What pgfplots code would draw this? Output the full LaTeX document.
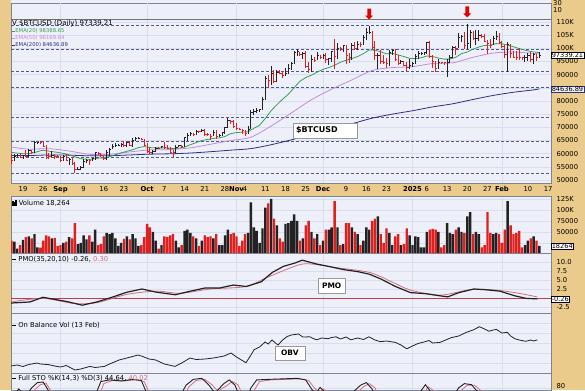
\documentclass[border=0pt]{standalone}
\usepackage{fontspec}
\setmainfont{DejaVu Sans}
\usepackage{pgfplots}
\pgfplotsset{compat=1.18}
\usepackage{pgfplotstable}
\usetikzlibrary{shadows,shapes.arrows}
\definecolor{tanc}{HTML}{EBCB8B}
\definecolor{panelbg}{HTML}{EEF0F9}
\definecolor{gridc}{HTML}{D9DDEC}
\definecolor{dashc}{HTML}{4B5A8E}
\definecolor{upc}{HTML}{222222}
\definecolor{dnc}{HTML}{E0201E}
\definecolor{ema20}{HTML}{3E9A5A}
\definecolor{ema50}{HTML}{C68BD8}
\definecolor{ema200}{HTML}{2E2E80}
\definecolor{borderc}{HTML}{7C8496}
\definecolor{sigc}{HTML}{D0707F}
\definecolor{zeroc}{HTML}{C23B4E}
\newcommand{\fs}{\fontsize{6.8}{8}\selectfont}
\newcommand{\fss}{\fontsize{5.3}{6}\selectfont}

\pgfplotstableread{
d h l c v
-3 59.8 57.1 58.9 28
-2 59.7 58.8 59.5 12
0 59.6 57.8 59.5 32
2 61.8 58.8 61.2 40
4 64.9 60.4 64.1 45
5 64.5 63.6 64.2 15
10 61.1 58.8 59.4 35
14 59.4 57.1 59.1 25
16 58.5 55.6 58.0 38
19 54.8 53.8 54.2 22
20 55.3 53.7 54.9 25
21 58.1 54.6 57.0 42
22 58.0 56.4 57.6 33
24 58.5 57.4 58.1 28
25 60.7 57.7 60.6 55
29 61.3 57.6 60.3 48
30 62.3 59.2 61.7 45
31 63.8 61.6 62.9 48
32 64.1 62.4 63.2 35
33 63.6 62.8 63.3 18
34 64.0 62.4 63.6 25
36 64.6 62.7 64.3 40
38 65.8 62.7 65.2 45
39 66.5 64.8 65.8 35
40 66.3 65.4 65.9 18
45 61.5 59.9 60.8 50
46 62.5 60.5 62.1 30
48 63.0 62.0 62.8 20
53 63.4 60.1 62.4 30
54 63.4 62.4 63.2 15
56 66.5 62.4 66.0 52
57 67.9 64.8 67.0 55
58 68.4 66.7 67.6 48
60 68.9 67.1 68.4 35
62 69.4 68.1 69.0 30
66 68.8 66.6 68.2 35
68 67.5 66.5 67.0 20
69 68.3 66.8 68.0 20
70 70.2 67.5 69.9 42
71 73.6 69.7 72.7 55
78 70.5 67.5 69.4 48
79 76.4 69.3 75.6 117
80 76.9 74.5 75.9 60
81 77.2 75.6 76.5 52
82 76.9 75.8 76.7 25
83 81.4 76.5 80.5 58
84 89.6 80.2 88.7 105
86 93.4 86.2 90.5 125
88 91.9 87.1 91.0 65
91 92.6 89.4 90.5 68
92 94.0 90.4 92.3 70
93 94.9 91.6 94.3 75
94 98.9 94.1 98.4 90
95 99.6 97.2 98.9 75
97 98.6 95.8 98.0 35
100 97.3 91.0 95.9 50
102 98.7 95.4 97.5 45
104 97.9 95.8 97.2 30
106 96.3 93.6 96.0 55
107 99.0 94.7 98.8 60
109 101.9 95.9 99.9 60
111 101.4 98.8 101.2 22
114 101.9 95.7 101.2 60
116 102.6 99.2 101.4 45
118 105.1 101.3 104.3 30
119 107.8 103.3 106.1 60
120 108.4 105.3 106.1 55
123 98.1 92.2 97.3 85
127 99.4 93.4 98.6 48
128 99.9 97.6 99.4 20
131 95.5 94.0 95.2 20
134 96.1 92.0 93.4 42
135 94.9 92.8 94.4 20
136 97.8 94.2 96.9 40
137 98.9 96.0 98.1 38
138 98.7 97.6 98.2 15
139 98.8 97.3 98.3 15
140 102.5 97.9 102.1 50
144 95.8 92.2 94.7 50
147 95.9 89.3 94.5 70
148 97.4 94.3 96.5 48
149 100.7 96.5 100.5 45
151 105.9 100.0 104.1 60
152 104.9 102.3 104.5 50
154 109.1 99.6 102.0 85
155 107.1 100.1 106.1 95
157 106.8 101.3 103.9 50
158 107.1 102.8 104.8 45
163 104.8 101.3 103.7 45
164 106.4 103.3 104.7 48
168 102.5 91.2 101.4 120
174 97.3 94.7 96.5 20
175 98.3 95.3 97.4 30
177 98.1 94.1 97.8 40
179 98.8 96.3 97.3 18
}\uptab

\pgfplotstableread{
d h l c v
-4 59.8 56.1 57.5 30
-1 60.2 58.4 58.4 20
1 61.4 58.6 59.0 38
3 61.4 59.8 60.4 35
6 65.0 63.8 64.2 14
7 64.4 62.8 62.9 30
8 63.2 58.1 59.4 42
9 60.2 57.9 59.0 40
11 59.9 57.8 59.1 36
12 59.4 58.7 58.9 18
13 59.0 57.2 57.3 20
15 59.8 57.4 57.5 28
17 58.3 55.7 56.2 35
18 56.9 52.6 53.9 70
23 57.9 55.6 57.4 42
26 60.6 59.5 60.0 20
27 60.4 58.7 59.2 22
28 59.2 57.5 58.2 40
35 64.7 62.6 63.3 34
37 64.8 62.9 63.2 33
41 66.0 65.3 65.6 20
42 65.6 62.9 63.3 38
43 64.1 60.2 60.8 68
44 62.4 59.9 60.6 60
47 62.4 61.7 62.1 12
49 64.5 62.1 62.2 40
50 63.2 61.9 62.1 38
51 62.6 60.3 60.6 42
52 61.3 58.9 60.3 45
55 63.3 62.0 62.9 20
59 67.9 66.7 67.4 40
61 68.7 68.0 68.4 18
63 69.5 66.6 67.4 42
64 67.8 66.6 67.4 38
65 67.5 65.3 66.7 40
67 68.8 65.6 66.6 45
72 72.9 71.4 72.3 45
73 72.7 69.7 70.2 48
74 71.6 68.8 69.5 40
75 69.9 68.9 69.3 18
76 69.4 67.5 68.7 30
77 69.0 66.8 67.8 45
85 89.9 85.1 87.9 115
87 91.8 86.7 87.4 80
89 91.8 90.1 90.6 35
90 91.3 88.8 89.8 28
96 98.8 97.2 97.7 30
98 98.9 92.6 93.1 65
99 94.7 90.8 91.9 75
101 96.6 94.7 95.6 35
103 97.5 96.1 96.4 20
105 98.1 94.5 95.9 55
108 103.7 92.1 97.0 120
110 100.6 99.0 99.9 20
112 101.2 94.2 97.4 70
113 98.2 94.3 96.7 70
115 102.5 99.3 100.0 50
117 102.4 100.6 101.4 20
121 106.5 100.0 100.2 75
122 102.7 95.6 97.4 80
124 99.5 94.2 95.2 45
125 97.3 94.2 94.8 25
126 96.4 92.4 94.4 58
129 99.9 95.2 95.7 40
130 97.3 93.5 94.1 45
132 95.2 93.3 93.6 22
133 94.9 91.5 92.7 58
141 102.7 96.2 96.9 55
142 97.3 92.5 95.0 57
143 95.3 91.2 92.5 55
145 94.9 93.9 94.5 15
146 95.0 93.7 94.5 20
150 100.8 97.3 99.9 55
153 106.3 99.6 101.1 48
156 106.4 103.3 103.7 45
159 105.3 104.1 104.7 15
160 105.5 102.5 102.6 20
161 103.2 97.8 102.0 95
162 103.7 100.3 101.3 48
165 106.0 101.6 102.4 45
166 102.8 100.3 100.6 25
167 101.4 96.2 97.7 55
169 101.7 96.2 97.9 65
170 99.0 96.2 96.6 45
171 99.0 95.7 96.6 48
172 100.1 95.7 96.5 52
173 96.9 95.7 96.5 15
176 98.5 94.9 95.7 35
178 98.0 95.2 96.6 30
}\dntab

\pgfplotsset{
  panel/.style={
    scale only axis, width=540bp, xmin=-4.16, xmax=183.02,
    anchor=south west,
    axis background/.style={fill=panelbg},
    axis line style={borderc, line width=0.6bp},
    major tick length=0pt,
    grid style={gridc, line width=0.5bp},
    ymajorgrids,
    yticklabel pos=right,
    yticklabel style={font=\fs, anchor=west, xshift=2bp},
    clip mode=individual,
  },
  months/.style={xtick={13,43,74,104,135,166}, xticklabels={}, xmajorgrids},
  hline/.style={forget plot, no markers},
}

\begin{document}
\begin{tikzpicture}[x=1bp,y=1bp]
\fill[tanc] (0,0) rectangle (585,390);
\useasboundingbox (0,0) rectangle (585,390);
\fill[panelbg] (11,387) rectangle (551,390);

% ---------------- price panel
\begin{axis}[panel, at={(11bp,207bp)}, height=180bp,
  ymin=48.86, ymax=117.22,
  ytick={50,55,60,65,70,75,80,85,90,95,100,105,110},
  yticklabels={50000,55000,60000,65000,70000,75000,80000,{},90000,95000,100K,105K,110K},
  xtick={0,7,21,28,35,49,56,63,70,77,84,91,98,112,119,126,140,147,154,161,175,182},
  xticklabels={19,26,9,16,23,7,14,21,28,4,11,18,25,9,16,23,6,13,20,27,10,17},
  xticklabel style={font=\fs},
  extra x ticks={13,43,74,104,135,166},
  extra x tick labels={Sep,Oct,Nov,Dec,2025,Feb},
  extra x tick style={grid=major, xticklabel style={font=\fs\bfseries}},
]
\addplot[hline, color=black!55, line width=0.8bp] coordinates {(-4.16,111.1) (183.02,111.1)};
\addplot[hline, dashc, line width=0.8bp, dash pattern=on 3bp off 2bp] coordinates {(-4.16,108.6) (183.02,108.6)};
\addplot[hline, dashc, line width=0.8bp, dash pattern=on 3bp off 2bp] coordinates {(-4.16,99.6) (183.02,99.6)};
\addplot[hline, dashc, line width=0.8bp, dash pattern=on 3bp off 2bp] coordinates {(-4.16,91.2) (183.02,91.2)};
\addplot[hline, dashc, line width=0.8bp, dash pattern=on 3bp off 2bp] coordinates {(-4.16,85.0) (183.02,85.0)};
\addplot[hline, dashc, line width=0.8bp, dash pattern=on 3bp off 2bp] coordinates {(-4.16,73.7) (183.02,73.7)};
\addplot[hline, dashc, line width=0.8bp, dash pattern=on 3bp off 2bp] coordinates {(-4.16,64.5) (183.02,64.5)};
\addplot[hline, dashc, line width=0.8bp, dash pattern=on 3bp off 2bp] coordinates {(-4.16,58.7) (183.02,58.7)};
\addplot[hline, dashc, line width=0.8bp, dash pattern=on 3bp off 2bp] coordinates {(-4.16,52.5) (183.02,52.5)};
% EMA 200
\addplot[ema200, line width=0.8bp, smooth, no markers] coordinates {
(-4,59.3) (2,59.29) (9,59.51) (16,59.43) (23,59.19) (30,59.22) (37,59.51) (44,59.81) (51,59.95) (58,60.24) (65,60.75) (72,61.33) (79,61.92) (86,63.40) (93,65.25) (100,67.35) (107,69.34) (114,71.35) (121,73.48) (128,75.01) (135,76.30) (142,77.77) (149,78.95) (156,80.59) (163,82.12) (170,83.32) (177,84.23) (179,84.64)};
% EMA 50
\addplot[ema50, line width=0.8bp, smooth, no markers] coordinates {
(-4,62.5) (2,61.7) (9,61.9) (16,61.0) (23,59.75) (30,59.74) (37,60.66) (44,61.45) (51,61.56) (58,62.2) (65,63.57) (72,64.99) (79,66.24) (86,70.5) (93,75.45) (100,80.5) (107,84.5) (114,88.0) (121,91.6) (128,92.7) (135,93.04) (142,94.25) (149,94.5) (156,96.6) (163,98.2) (170,98.6) (177,98.1) (179,98.17)};
% EMA 20
\addplot[ema20, line width=0.8bp, no markers] coordinates {
(-4,60.5) (-2,60.2) (0,60.0) (2,60.0) (4,60.4) (6,61.1) (7,61.3) (8,61.1) (10,60.8) (12,60.5) (14,60.1) (16,59.6) (18,58.8) (20,58.1) (22,57.9) (24,57.9) (26,58.3) (28,58.4) (30,58.9) (32,59.6) (34,60.3) (36,60.9) (38,61.5) (40,62.3) (42,62.7) (44,62.3) (46,62.2) (48,62.2) (50,62.2) (52,61.9) (54,62.1) (56,62.5) (58,63.4) (60,64.2) (62,65.0) (64,65.4) (66,65.8) (68,66.0) (70,66.5) (72,67.6) (74,68.0) (76,68.2) (78,68.3) (79,69.0) (80,69.6) (82,70.8) (84,73.4) (86,76.3) (88,78.6) (90,80.7) (92,82.6) (94,85.1) (96,87.5) (98,88.9) (100,89.8) (102,91.0) (104,92.0) (106,92.7) (108,93.6) (110,94.7) (112,95.5) (114,96.1) (116,96.9) (118,98.0) (120,99.4) (122,99.3) (124,98.7) (126,97.9) (128,98.1) (130,97.5) (132,96.9) (134,96.2) (136,96.1) (138,96.4) (140,97.1) (142,96.9) (144,96.3) (146,95.9) (148,95.9) (150,96.6) (152,98.0) (154,98.6) (156,99.7) (158,100.5) (160,101.1) (162,101.2) (164,101.8) (166,101.7) (168,101.3) (170,100.6) (172,99.9) (174,99.3) (176,98.8) (178,98.5) (179,98.4)};
% price bars
\addplot[upc, only marks, mark=-, mark size=0.9bp, mark options={line width=0.8bp, xshift=0.9bp},
  error bars/.cd, y dir=both, y explicit, error mark=none, error bar style={line width=1bp, upc}]
  table[x=d, y=c, y error plus expr=\thisrow{h}-\thisrow{c}, y error minus expr=\thisrow{c}-\thisrow{l}] {\uptab};
\addplot[dnc, only marks, mark=-, mark size=0.9bp, mark options={line width=0.8bp, xshift=0.9bp},
  error bars/.cd, y dir=both, y explicit, error mark=none, error bar style={line width=1bp, dnc}]
  table[x=d, y=c, y error plus expr=\thisrow{h}-\thisrow{c}, y error minus expr=\thisrow{c}-\thisrow{l}] {\dntab};
% arrows
\node[single arrow, fill=red!90!black, draw=none, rotate=-90, minimum height=11bp, minimum width=8bp, inner sep=1.6bp, single arrow head extend=2bp] at (axis cs:120,113.4) {};
\node[single arrow, fill=red!90!black, draw=none, rotate=-90, minimum height=11bp, minimum width=8bp, inner sep=1.6bp, single arrow head extend=2bp] at (axis cs:154,114.2) {};
% label box
\node[draw=black!40, fill=white, drop shadow={opacity=0.25, shadow xshift=1bp, shadow yshift=-1bp}, minimum width=64bp, minimum height=15bp, text width=58bp, align=left, inner sep=2bp, font=\fontsize{8}{9}\selectfont\bfseries] at (axis cs:104.7,68.8) {\$BTCUSD};
% right boxes
\node[draw=black, fill=white, inner sep=0.6bp, anchor=west, font=\fontsize{6.6}{7}\selectfont] at (axis cs:183.02,97.34) {97339.21};
\node[draw=ema200, fill=panelbg, inner sep=0.6bp, anchor=west, font=\fontsize{6.6}{7}\selectfont] at (axis cs:183.02,84.64) {84636.89};
\end{axis}

% ---------------- volume
\begin{axis}[panel, months, at={(11bp,137bp)}, height=57bp,
  ymin=2, ymax=131.5,
  ytick={25,50,75,100,125}, yticklabels={{},50000,75000,100K,125K},
]
\addplot[ybar, bar width=2.4bp, bar shift=0pt, fill=upc, draw=none] table[x=d, y=v] {\uptab};
\addplot[ybar, bar width=2.4bp, bar shift=0pt, fill=dnc, draw=none] table[x=d, y=v] {\dntab};
\node[draw=black, fill=white, inner sep=0.6bp, anchor=west, font=\fontsize{6.6}{7}\selectfont] at (axis cs:183.02,18.26) {18264};
\end{axis}

% ---------------- PMO
\begin{axis}[panel, months, at={(11bp,77bp)}, height=60bp,
  ymin=-4.17, ymax=12.5,
  ytick={-2.5,0,2.5,5,7.5,10}, yticklabels={-2.5,{},2.5,5.0,7.5,10.0},
]
\addplot[hline, zeroc, line width=0.8bp] coordinates {(-4.16,0) (183.02,0)};
\addplot[sigc, line width=0.8bp, smooth, no markers] coordinates {
(-4.1,-1.1) (6.9,-0.1) (17.5,-1.5) (25.6,-1.3) (36,1.0) (46.3,1.9) (54.5,1.3) (65,2.5) (77.4,3.2) (84.8,5.8) (95.6,9.2) (100.6,9.4) (108,8.5) (120.1,7.1) (127.8,4.5) (134.3,2.2) (144.6,0.8) (154.9,2.3) (162.6,2.3) (170.5,1.5) (178.3,0.3)};
\addplot[upc, line width=1.2bp, no markers] coordinates {
(-4.1,-1.4) (2.4,-1.1) (6.9,0.2) (10.1,-0.26) (15.3,-1.0) (20.5,-2.0) (25.6,-1.1) (30.8,0.2) (36,1.6) (41.2,2.5) (46.3,1.6) (52.8,0.9) (58,1.9) (63.2,2.8) (68.3,2.8) (72.9,3.6) (77.4,3.2) (82.6,4.5) (86.4,7.1) (90.3,8.8) (94.2,9.7) (96.8,10.5) (102,9.4) (105.8,8.8) (111,7.9) (116.2,7.3) (120.1,6.6) (124,5.3) (129.1,3.2) (134.3,1.5) (139.5,1.2) (144.6,0.6) (147.2,0.3) (151.1,1.5) (156.3,2.5) (160.2,2.3) (165.3,1.9) (170.5,0.6) (174.4,-0.1) (178.3,-0.26)};
\node[draw=black!40, fill=white, drop shadow={opacity=0.25, shadow xshift=1bp, shadow yshift=-1bp}, minimum width=27bp, minimum height=15bp, inner sep=1bp, font=\fontsize{7.5}{8}\selectfont\bfseries] at (axis cs:107,3.47) {PMO};
\node[draw=black, fill=white, inner sep=0.6bp, anchor=west, font=\fontsize{6.6}{7}\selectfont] at (axis cs:183.02,-0.26) {-0.26};
\end{axis}

% ---------------- OBV
\begin{axis}[panel, months, at={(11bp,17bp)}, height=60bp,
  ymin=0, ymax=60, ytick={10,20,30,40,50}, yticklabels={},
]
\addplot[upc, line width=0.8bp, no markers] coordinates {
(-4.2,7) (-2,8) (0,6.5) (2,8.5) (4.9,10) (6,9) (8.8,8.4) (11,7) (13,6) (15,7.5) (18,3) (20,4) (23.2,6.6) (25,5.5) (28.2,6.6) (30,9) (33.3,13) (36,15) (39.9,18) (41.5,16.5) (43.7,14) (46,13) (49,9) (52.7,6.6) (55,10) (57.9,15) (60,13.5) (63.1,14) (66,15) (69.7,17) (72.1,20) (74,16) (77.3,10.3) (79,18) (80.1,23.3) (82,26) (83.9,31) (85,29) (86.3,33) (87.5,30) (88.4,28) (90,33) (91.5,36.4) (93,38) (95.5,39) (97,36) (99.4,36.2) (101,34) (101.9,33.2) (103.5,35) (105.7,34.3) (107,35.5) (108.5,36.2) (110,34) (112,36) (113.6,33.2) (116,35) (118,33.5) (119.9,36.2) (122,33) (123.9,31.3) (126,32) (129.1,30.6) (131,28) (133,24.2) (135,27) (136.9,29.5) (139,31) (140.7,32.5) (142,30) (144.5,30.6) (146.5,33) (148.5,35.4) (151,37) (153.7,40.7) (156,43) (158.2,46.3) (160,44) (161.5,41.8) (163,43) (164.1,43.6) (166,40) (167.9,40.7) (169,37) (170.5,34.3) (172,33) (174.3,31.7) (176,33) (177,32) (178.3,33.2)};
\node[draw=black!40, fill=white, drop shadow={opacity=0.25, shadow xshift=1bp, shadow yshift=-1bp}, minimum width=30bp, minimum height=14bp, inner sep=1bp, font=\fontsize{7.5}{8}\selectfont\bfseries] at (axis cs:92.5,20) {OBV};
\end{axis}

% ---------------- STO
\begin{axis}[panel, months, at={(11bp,0bp)}, height=17bp,
  ymin=76, ymax=108, ytick={80}, yticklabels={80},
  yticklabel style={yshift=1.5bp},
]
\addplot[sigc, line width=0.8bp, no markers] coordinates {
(-4,55) (-0.5,74) (2,68) (4,76) (6,86) (8,89) (9.5,76) (12,52) (17,32) (21,18) (24,35) (26.5,66) (28,88) (31,94) (35,93) (39,95) (42,92) (43.5,74) (46,45) (51,32) (55,55) (57.5,82) (60,94) (63,96) (65.5,86) (67.5,74) (70.6,84) (72.5,92) (74.5,86) (76,68) (78,52) (80,74) (82,92) (86,95) (91,96) (96,97) (99,94) (101,80) (102.5,72) (104,78) (106,70) (109,62) (113,56) (116,72) (118,82) (120,88) (122,80) (124,55) (128,46) (133,38) (137,55) (140.5,82) (142,76) (145,50) (149,52) (152,76) (154,85) (156.5,85) (158,78) (162,62) (166,68) (169,54) (173,38) (177,40) (179,40)};
\addplot[upc, line width=0.9bp, no markers] coordinates {
(-4,60) (-1.5,78) (1,65) (3,80) (5,90) (7,91) (8.5,78) (11,50) (16,30) (20,15) (23,40) (25.5,72) (27,92) (30,95) (34,93) (38,96) (41,94) (42.5,75) (45,40) (50,30) (54,60) (56.5,85) (59,96) (62,98) (64.5,85) (66.5,70) (69.6,88) (71.5,95) (73.5,85) (75,65) (77,50) (79,80) (81,95) (85,96) (90,97) (95,98) (98,95) (100,78) (101.5,70) (103,81) (105,70) (108,60) (112,55) (115,75) (117,85) (119,90) (121,78) (123,50) (127,45) (132,35) (136,60) (139.5,86) (141,75) (144,45) (148,55) (151,80) (153,88) (155.5,86) (157,76) (161,60) (165,72) (168,50) (172,35) (176,42) (179,45)};
\end{axis}

% ---------------- texts
\node[anchor=west, font=\fs, inner sep=0] at (553,386.5) {30};
\node[anchor=west, font=\fs, inner sep=0] at (553,380) {10};
\node[anchor=west, font=\fontsize{7}{8}\selectfont, inner sep=0] at (12,366) {V \$BTCUSD (Daily) 97339.21};
\node[anchor=west, font=\fss, inner sep=0, text=ema20] at (12,359) {\rule[0.3ex]{0.6em}{0.8pt}EMA(20) 98388.65};
\node[anchor=west, font=\fss, inner sep=0, text=ema50] at (12,352) {\rule[0.3ex]{0.6em}{0.8pt}EMA(50) 98169.64};
\node[anchor=west, font=\fss, inner sep=0, text=ema200] at (12,345) {\rule[0.3ex]{0.6em}{0.8pt}EMA(200) 84636.89};
\node[anchor=west, font=\fs, inner sep=0] at (12,187) {\rule{1.5pt}{5pt}\rule{1.5pt}{3.5pt}\rule{1.5pt}{6pt} Volume 18,264};
\node[anchor=west, font=\fs, inner sep=0] at (12,131) {\rule[0.3ex]{0.6em}{0.9pt} PMO(35,20,10) -0.26, \textcolor{sigc}{0.30}};
\node[anchor=west, font=\fs, inner sep=0] at (12,65) {\rule[0.3ex]{0.6em}{0.9pt} On Balance Vol (13 Feb)};
\node[anchor=west, font=\fs, inner sep=0] at (12,12) {\rule[0.3ex]{0.6em}{0.9pt} Full STO \%K(14,3) \%D(3) 44.64, \textcolor{sigc}{40.02}};
\end{tikzpicture}
\end{document}
